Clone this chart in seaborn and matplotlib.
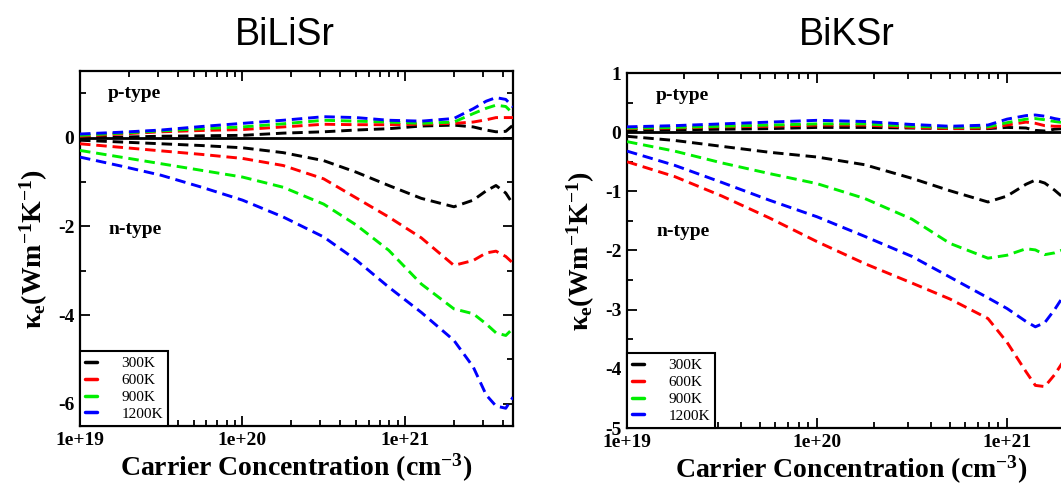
import numpy as np
import pandas as pd
import matplotlib
matplotlib.use("Agg")
import matplotlib.pyplot as plt
import seaborn as sns
from matplotlib.lines import Line2D
from matplotlib.ticker import (MultipleLocator, LogLocator, NullFormatter,
                               FixedLocator, FixedFormatter)

# ---------------------------------------------------------------- data
temperatures = ["300K", "600K", "900K", "1200K"]
line_colors = ["#000000", "#ff0000", "#00ee00", "#0000ff"]

x_ticks = [1e19, 1e20, 1e21]
x_tick_labels = ["1e+19", "1e+20", "1e+21"]

# BiLiSr: carrier concentration (cm^-3)
conc_lisr = [1.0e19, 1.78e19, 3.16e19, 5.62e19, 1.0e20, 1.78e20, 3.16e20,
             5.01e20, 7.94e20, 1.26e21, 2.0e21, 2.63e21, 3.16e21, 3.63e21,
             4.17e21, 4.62e21]
# n-type electronic thermal conductivity (W m^-1 K^-1)
lisr_n_300 = [-0.06, -0.10, -0.14, -0.18, -0.23, -0.34, -0.52, -0.78, -1.08,
              -1.37, -1.56, -1.41, -1.20, -1.08, -1.25, -1.50]
lisr_n_600 = [-0.14, -0.22, -0.30, -0.38, -0.47, -0.63, -0.93, -1.36, -1.79,
              -2.26, -2.88, -2.77, -2.60, -2.56, -2.68, -2.83]
lisr_n_900 = [-0.29, -0.44, -0.59, -0.74, -0.89, -1.12, -1.50, -1.97, -2.54,
              -3.30, -3.86, -3.97, -4.20, -4.40, -4.46, -4.30]
lisr_n_1200 = [-0.44, -0.64, -0.85, -1.12, -1.41, -1.79, -2.24, -2.76, -3.37,
               -3.94, -4.57, -5.17, -5.80, -6.05, -6.10, -5.85]
# p-type
lisr_p_300 = [0.00, 0.01, 0.03, 0.04, 0.05, 0.10, 0.13, 0.17, 0.20, 0.26,
              0.28, 0.24, 0.17, 0.13, 0.14, 0.28]
lisr_p_600 = [0.03, 0.08, 0.13, 0.16, 0.18, 0.24, 0.30, 0.29, 0.29, 0.30,
              0.32, 0.35, 0.40, 0.45, 0.45, 0.45]
lisr_p_900 = [0.05, 0.10, 0.15, 0.20, 0.24, 0.31, 0.39, 0.37, 0.35, 0.32,
              0.35, 0.54, 0.66, 0.73, 0.70, 0.54]
lisr_p_1200 = [0.08, 0.12, 0.17, 0.25, 0.32, 0.39, 0.47, 0.45, 0.39, 0.37,
               0.43, 0.65, 0.82, 0.90, 0.86, 0.69]

# BiKSr: carrier concentration (cm^-3)
conc_ksr = [1.0e19, 1.78e19, 3.16e19, 5.62e19, 1.0e20, 1.78e20, 3.16e20,
            5.01e20, 7.94e20, 1.0e21, 1.26e21, 1.41e21, 1.58e21, 1.78e21,
            2.0e21, 2.29e21]
ksr_n_300 = [-0.07, -0.14, -0.24, -0.34, -0.42, -0.55, -0.78, -0.99, -1.18,
             -1.08, -0.88, -0.81, -0.86, -0.98, -1.12, -1.20]
ksr_n_600 = [-0.50, -0.75, -1.08, -1.45, -1.85, -2.22, -2.55, -2.82, -3.15,
             -3.55, -4.05, -4.28, -4.30, -4.10, -3.85, -3.50]
ksr_n_900 = [-0.16, -0.32, -0.52, -0.70, -0.87, -1.12, -1.47, -1.88, -2.13,
             -2.08, -1.97, -1.99, -2.07, -2.04, -1.98, -1.95]
ksr_n_1200 = [-0.32, -0.56, -0.85, -1.15, -1.43, -1.76, -2.10, -2.45, -2.80,
              -2.98, -3.20, -3.29, -3.22, -3.00, -2.75, -2.50]
ksr_p_300 = [0.03, 0.04, 0.05, 0.06, 0.08, 0.08, 0.07, 0.06, 0.06, 0.08,
             0.07, 0.03, 0.02, 0.05, 0.06, 0.05]
ksr_p_600 = [0.06, 0.07, 0.09, 0.10, 0.12, 0.12, 0.08, 0.06, 0.07, 0.12,
             0.17, 0.15, 0.11, 0.10, 0.10, 0.09]
ksr_p_900 = [0.07, 0.08, 0.10, 0.12, 0.14, 0.14, 0.10, 0.08, 0.09, 0.16,
             0.22, 0.23, 0.21, 0.18, 0.16, 0.14]
ksr_p_1200 = [0.09, 0.11, 0.14, 0.17, 0.20, 0.18, 0.13, 0.10, 0.12, 0.22,
              0.28, 0.29, 0.27, 0.23, 0.20, 0.18]

# ---------------------------------------------------------------- tidy frame
panels = {
    "BiLiSr": (conc_lisr,
               [lisr_n_300, lisr_n_600, lisr_n_900, lisr_n_1200],
               [lisr_p_300, lisr_p_600, lisr_p_900, lisr_p_1200]),
    "BiKSr": (conc_ksr,
              [ksr_n_300, ksr_n_600, ksr_n_900, ksr_n_1200],
              [ksr_p_300, ksr_p_600, ksr_p_900, ksr_p_1200]),
}
rows = []
for name, (conc, n_sets, p_sets) in panels.items():
    for T, n_vals, p_vals in zip(temperatures, n_sets, p_sets):
        for c, v in zip(conc, n_vals):
            rows.append((name, "n", T, c, v))
        for c, v in zip(conc, p_vals):
            rows.append((name, "p", T, c, v))
df = pd.DataFrame(rows, columns=["material", "carrier", "T", "conc", "kappa"])

# ---------------------------------------------------------------- style
sns.set_style("ticks", {"xtick.direction": "in", "ytick.direction": "in"})
plt.rcParams.update({
    "font.family": ["Liberation Serif", "DejaVu Serif"],
    "font.weight": "bold",
    "text.color": "black",
    "axes.labelcolor": "black",
    "xtick.color": "black",
    "ytick.color": "black",
    "axes.unicode_minus": False,
    "mathtext.fontset": "custom",
    "mathtext.rm": "Liberation Serif:bold",
    "mathtext.it": "Liberation Serif:italic:bold",
    "mathtext.bf": "Liberation Serif:bold",
    "mathtext.default": "rm",
})

W, H = 1061, 486
fig = plt.figure(figsize=(W / 100, H / 100), dpi=100)
ax_l = fig.add_axes([80 / W, 60 / H, 433 / W, 355 / H])
ax_r = fig.add_axes([627 / W, 58 / H, 448 / W, 355 / H])

dash = (0, (3.6, 2.0))
settings = [
    (ax_l, "BiLiSr", (1e19, 4.62e21), (-6.5, 1.5), 2, 1, 285),
    (ax_r, "BiKSr", (1e19, 2.28e21), (-5, 1), 1, 0.5, 847),
]

for ax, name, xlim, ylim, ymaj, ymin, title_x in settings:
    ax.axhline(0, color="black", linewidth=2.0, zorder=1)
    for carrier in ("n", "p"):
        sub = df[(df.material == name) & (df.carrier == carrier)]
        sns.lineplot(data=sub, x="conc", y="kappa", hue="T",
                     hue_order=temperatures, palette=line_colors,
                     estimator=None, sort=False, legend=False, ax=ax,
                     linewidth=2.1, linestyle=dash, zorder=3)
    ax.set_xscale("log")
    ax.set_xlim(*xlim)
    ax.set_ylim(*ylim)

    ax.xaxis.set_major_locator(FixedLocator(x_ticks))
    ax.xaxis.set_major_formatter(FixedFormatter(x_tick_labels))
    ax.xaxis.set_minor_locator(LogLocator(base=10, subs=np.arange(2, 10) * 1.0,
                                          numticks=50))
    ax.xaxis.set_minor_formatter(NullFormatter())
    ax.yaxis.set_major_locator(MultipleLocator(ymaj))
    ax.yaxis.set_minor_locator(MultipleLocator(ymin))

    ax.tick_params(which="both", direction="in", top=True, right=True,
                   width=1.3, color="black", labelcolor="black")
    ax.tick_params(which="major", length=7, labelsize=14, pad=4)
    ax.tick_params(which="minor", length=4)
    for s in ax.spines.values():
        s.set_linewidth(1.6)
        s.set_color("black")
    for lab in ax.get_xticklabels() + ax.get_yticklabels():
        lab.set_fontweight("bold")

    ax.set_xlabel("Carrier Concentration (cm$^{-3}$)", fontsize=20,
                  fontweight="bold", labelpad=2)
    ax.set_ylabel("\u03ba$_e$(Wm$^{-1}$K$^{-1}$)", fontsize=20,
                  fontweight="bold", labelpad=6)

    ax.text(0.065, 0.924, "p-type", transform=ax.transAxes, fontsize=14,
            fontweight="bold", va="baseline")
    ax.text(0.065, 0.54, "n-type", transform=ax.transAxes, fontsize=14,
            fontweight="bold", va="baseline")

    handles = [Line2D([], [], color=c, linewidth=2.5) for c in line_colors]
    leg = ax.legend(handles, temperatures, loc="lower left", borderaxespad=0,
                    frameon=True, fancybox=False, framealpha=1,
                    edgecolor="black",
                    prop={"family": "Liberation Serif", "weight": "normal",
                          "size": 11},
                    handlelength=0.75, handletextpad=1.6, borderpad=0.35,
                    labelspacing=0.2)
    leg.get_frame().set_linewidth(1.5)
    for t in leg.get_texts():
        t.set_color("black")

    fig.text(title_x / W, 1 - 45 / H, name, ha="center", va="baseline",
             family="Liberation Sans", fontweight="normal", fontsize=27,
             color="black")

fig.savefig("out.png", dpi=100)
